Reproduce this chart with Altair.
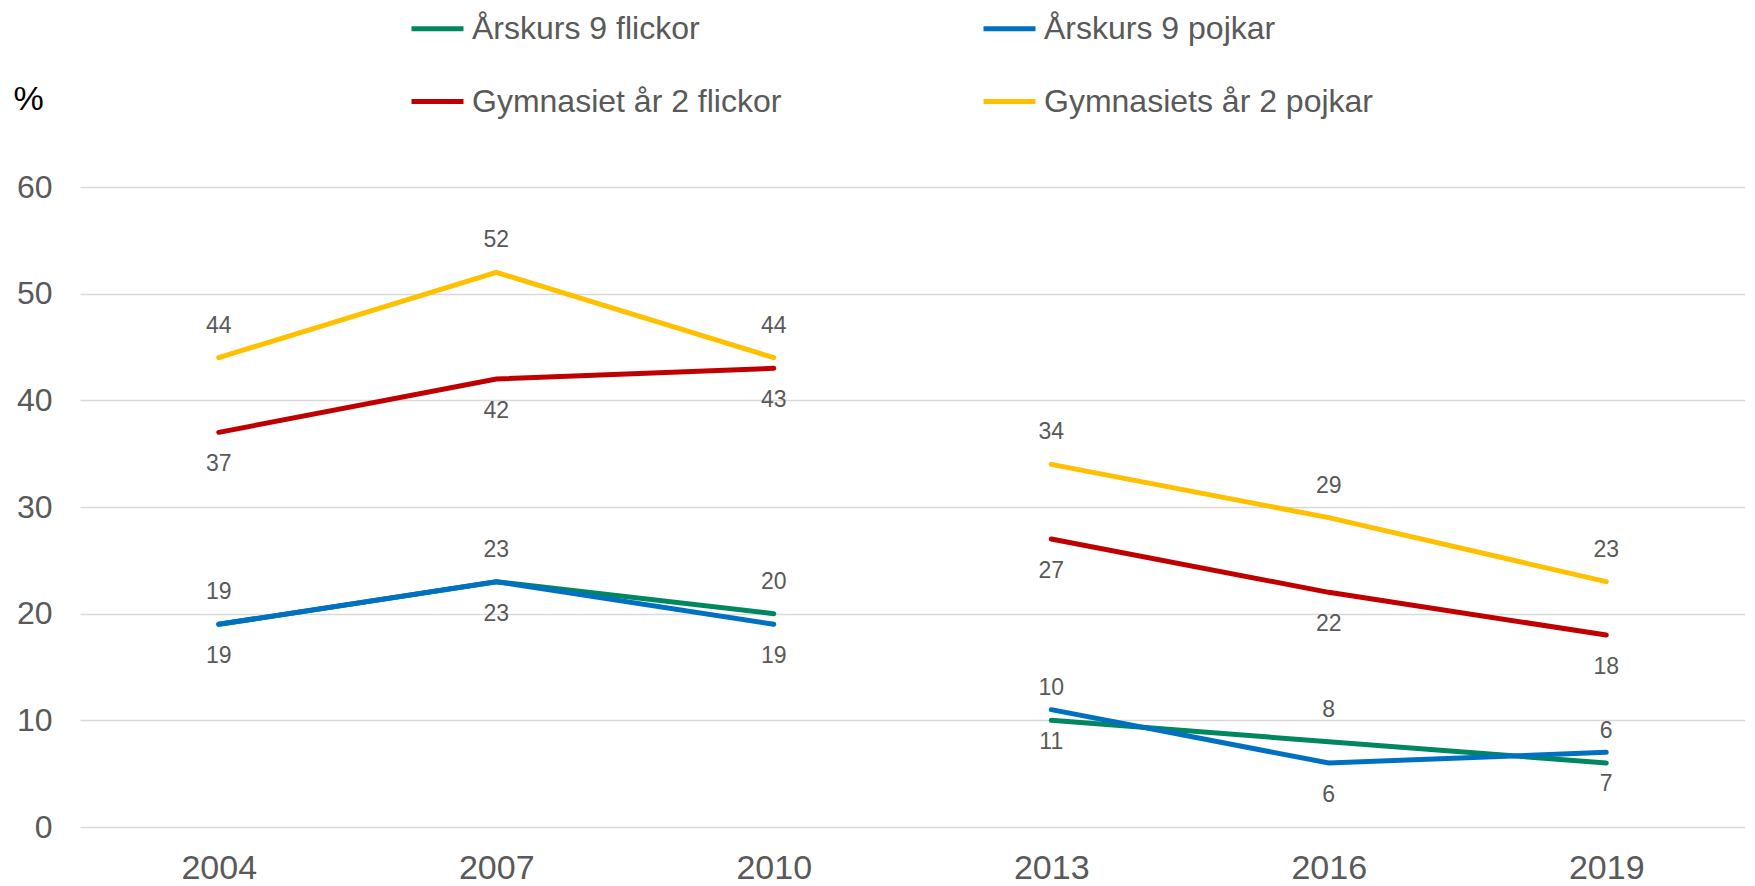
import altair as alt
import pandas as pd

years = ["2004", "2007", "2010", "2013", "2016", "2019"]
periods = ["A", "A", "A", "B", "B", "B"]
# order chosen so the 2-column legend reads like the reference
series = ["Årskurs 9 flickor", "Gymnasiet år 2 flickor", "Årskurs 9 pojkar", "Gymnasiets år 2 pojkar"]
colors = ["#00875F", "#C00000", "#0070C0", "#FFC000"]
ak9_flickor = [19, 23, 20, 10, 8, 6]
ak9_pojkar = [19, 23, 19, 11, 6, 7]
gy2_flickor = [37, 42, 43, 27, 22, 18]
gy2_pojkar = [44, 52, 44, 34, 29, 23]
label_side = ["above", "below", "below", "above"]

rows = []
for s, vals, side in zip(
    ["Årskurs 9 flickor", "Årskurs 9 pojkar", "Gymnasiet år 2 flickor", "Gymnasiets år 2 pojkar"],
    [ak9_flickor, ak9_pojkar, gy2_flickor, gy2_pojkar], label_side):
    for y, p, v in zip(years, periods, vals):
        rows.append({"serie": s, "year": y, "period": p, "value": v, "side": side})
df = pd.DataFrame(rows)

FONT = "Liberation Sans"
GRAY = "#595959"

x = alt.X("year:N", sort=years, scale=alt.Scale(paddingInner=0, paddingOuter=0),
          axis=alt.Axis(title=None, labelAngle=0, labelFontSize=34, labelColor=GRAY,
                        labelFont=FONT, ticks=False, domain=False, labelPadding=24, grid=False))
y = alt.Y("value:Q", scale=alt.Scale(domain=[0, 60], nice=False),
          axis=alt.Axis(values=[0, 10, 20, 30, 40, 50, 60], title="%", titleAngle=0,
                        titleX=-67, titleY=-88, titleAlign="left", titleBaseline="middle",
                        titleFontSize=34, titleFontWeight="normal", titleColor="#000000",
                        titleFont=FONT, labelFontSize=32, labelColor=GRAY, labelFont=FONT,
                        ticks=False, domain=False, labelPadding=28,
                        gridColor="#D9D9D9", gridWidth=1.5))

color = alt.Color("serie:N", scale=alt.Scale(domain=series, range=colors),
                  legend=alt.Legend(title=None, orient="none", legendX=329, legendY=-187,
                                    columns=2, symbolType="stroke", symbolStrokeWidth=5,
                                    symbolSize=2704, labelFontSize=32, labelColor=GRAY,
                                    labelFont=FONT, labelOffset=6, rowPadding=28,
                                    columnPadding=191, labelLimit=600))

base = alt.Chart(df)

lines = base.mark_line(strokeWidth=5, strokeCap="round").encode(
    x=x, y=y, color=color, detail="period:N",
    order=alt.Order("year:N"),
)

above = base.transform_filter(alt.datum.side == "above").mark_text(
    dy=-32, fontSize=23, font=FONT, color=GRAY, baseline="middle"
).encode(x=x, y=y, text="value:Q")

below = base.transform_filter(alt.datum.side == "below").mark_text(
    dy=32, fontSize=23, font=FONT, color=GRAY, baseline="middle"
).encode(x=x, y=y, text="value:Q")

chart = alt.layer(lines, above, below).properties(
    width=1665, height=640,
    autosize=alt.AutoSizeParams(type="none"),
    padding={"left": 72, "top": 179, "right": 0, "bottom": 58},
).configure_view(stroke=None)

chart.save("out.html", embed_options={"renderer": "svg", "actions": False})
